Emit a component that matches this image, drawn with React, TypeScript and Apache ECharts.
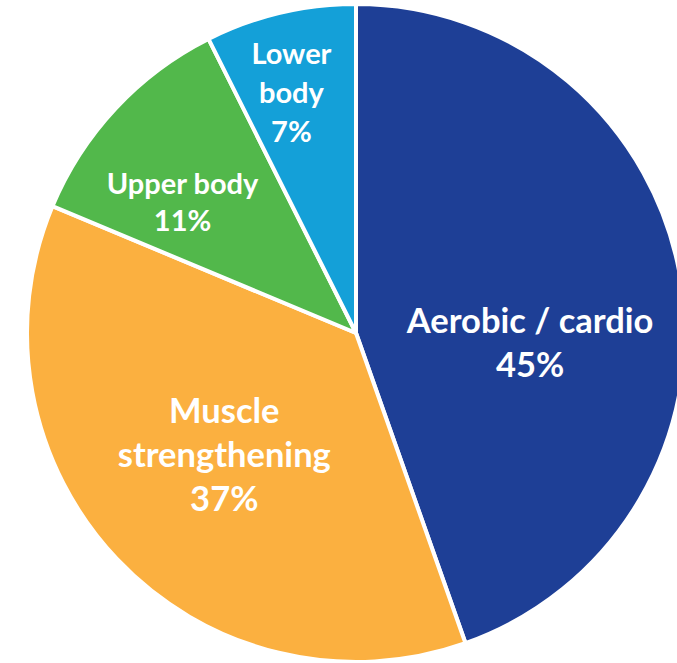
import React, { useEffect, useRef } from "react";
import * as echarts from "echarts";

const categories = ["Aerobic / cardio", "Muscle strengthening", "Upper body", "Lower body"];
const labelLines = ["Aerobic / cardio", "Muscle\nstrengthening", "Upper body", "Lower\nbody"];
const shares = [44.6, 36.7, 11.3, 7.4];
const colors = ["#1E3F96", "#FBB040", "#52B84B", "#14A0D8"];
const labelSizes = [34.5, 34.5, 29, 29];
const labelLineHeights = [44, 44, 37, 39];
const labelShift = [
  [9, 37],
  [-10, 5],
  [-51, -17.5],
  [-26, -79],
];

export default function App() {
  const ref = useRef<HTMLDivElement>(null);
  useEffect(() => {
    if (!ref.current) return;
    const chart = echarts.init(ref.current, undefined, { renderer: "svg" });
    chart.setOption({
      animation: false,
      backgroundColor: "#ffffff",
      series: [
        {
          type: "pie",
          center: [356, 333],
          radius: [0, 329],
          startAngle: 90,
          clockwise: true,
          avoidLabelOverlap: false,
          itemStyle: { borderColor: "#ffffff", borderWidth: 4 },
          label: {
            show: true,
            position: "inside",
            color: "#ffffff",
            fontFamily: "Lato",
            fontWeight: "bold",
            fontSize: 34.5,
            lineHeight: 44,
            align: "center",
            formatter: (p: any) => `${labelLines[p.dataIndex]}\n${Math.round(p.value)}%`,
          },
          labelLine: { show: false },
          emphasis: { disabled: true },
          labelLayout: (p: any) => ({ dx: labelShift[p.dataIndex][0], dy: labelShift[p.dataIndex][1] }),
          data: categories.map((name, i) => ({
            name,
            value: shares[i],
            itemStyle: { color: colors[i] },
            label: { fontSize: labelSizes[i], lineHeight: labelLineHeights[i] },
          })),
        },
      ],
    });
    return () => chart.dispose();
  }, []);
  return (
    <div
      ref={ref}
      style={{ position: "fixed", left: 0, top: 0, width: 677, height: 663, background: "#fff" }}
    />
  );
}
